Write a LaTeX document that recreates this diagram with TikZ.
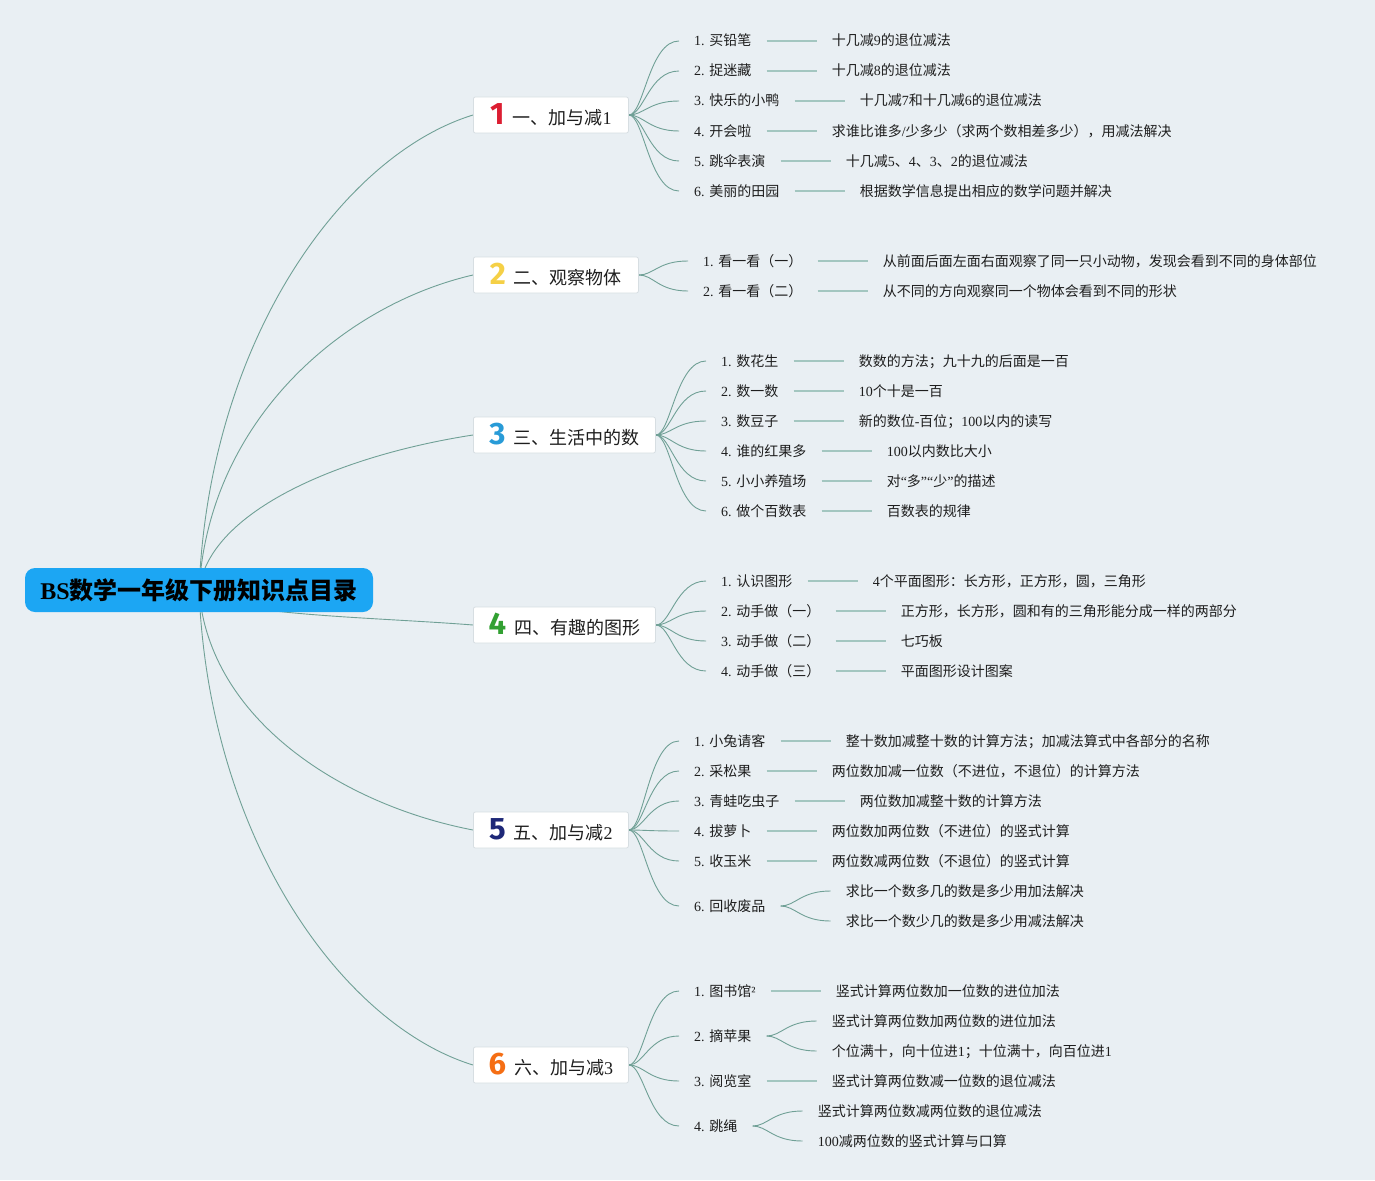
\documentclass[tikz,border=0pt]{standalone}
\usepackage{fontspec}
\setmainfont{Liberation Serif}
\newfontfamily\cjk{Noto Sans CJK SC}
\newfontfamily\numf{Fira Sans}
\usetikzlibrary{positioning,calc}
\XeTeXinterchartokenstate=1
\newXeTeXintercharclass\cjkcls
\newcount\cjkcnt
\def\setcjkrange#1#2{\cjkcnt=#1\relax\loop\ifnum\cjkcnt<#2\relax\XeTeXcharclass\cjkcnt=\cjkcls\advance\cjkcnt by 1\repeat}
\setcjkrange{"3000}{"3040}
\setcjkrange{"4E00}{"A000}
\setcjkrange{"FF00}{"FFF0}
\XeTeXinterchartoks 0 \cjkcls = {\cjk}
\XeTeXinterchartoks 4095 \cjkcls = {\cjk}
\XeTeXinterchartoks \cjkcls 0 = {\rmfamily}
\definecolor{bgc}{RGB}{233,239,243}
\definecolor{rootc}{RGB}{28,166,243}
\definecolor{curvec}{RGB}{112,160,150}
\definecolor{linec}{RGB}{163,198,192}
\definecolor{txt}{RGB}{30,30,30}
\definecolor{secb}{RGB}{215,222,226}
\definecolor{nA}{RGB}{220,30,50}
\definecolor{nB}{RGB}{245,208,70}
\definecolor{nC}{RGB}{40,155,215}
\definecolor{nD}{RGB}{50,160,50}
\definecolor{nE}{RGB}{30,40,120}
\definecolor{nF}{RGB}{245,110,20}
\newcommand\secnum[2]{{\numf\bfseries\fontsize{31}{31}\selectfont\color{#1}#2}\hspace{8pt}}
\pgfdeclarelayer{back}
\pgfdeclarelayer{conn}
\pgfsetlayers{back,conn,main}
\tikzset{
  mroot/.style={fill=rootc, rounded corners=10pt, minimum width=348pt, minimum height=44pt, inner sep=0pt, font=\fontsize{24}{28}\selectfont\bfseries, text=black},
  msec/.style={fill=white, draw=secb, line width=0.8pt, rounded corners=2pt, minimum height=36pt, inner xsep=0pt, inner ysep=0pt, font=\fontsize{18}{22}\selectfont, text=txt, anchor=west},
  mlab/.style={inner xsep=15pt, inner ysep=1pt, text height=11pt, text depth=1pt, font=\fontsize{14}{16}\selectfont, text=txt, anchor=west},
  mconn/.style={draw=curvec, line width=0.9pt},
  mline/.style={draw=linec, line width=1.8pt}
}
\begin{document}
\begin{tikzpicture}[x=1pt,y=-1pt]
\begin{pgfonlayer}{back}
\fill[bgc] (0,0) rectangle (1375,1180);
\end{pgfonlayer}
\useasboundingbox (0,0) rectangle (1375,1180);
% root
\node[mroot] (root) at (199,590) {BS数学一年级下册知识点目录};
% sections
\node[msec, minimum width=155pt] (s1) at (473,115) {\secnum{nA}{1}一、加与减1};
\node[msec, minimum width=165pt] (s2) at (473,275) {\secnum{nB}{2}二、观察物体};
\node[msec, minimum width=182pt] (s3) at (473,435) {\secnum{nC}{3}三、生活中的数};
\node[msec, minimum width=182pt] (s4) at (473,625) {\secnum{nD}{4}四、有趣的图形};
\node[msec, minimum width=155pt] (s5) at (473,830) {\secnum{nE}{5}五、加与减2};
\node[msec, minimum width=155pt] (s6) at (473,1065) {\secnum{nF}{6}六、加与减3};
% section 1
\node[mlab] (a1) at (679,41) {1. 买铅笔};
\node[mlab] (a2) at (679,71) {2. 捉迷藏};
\node[mlab] (a3) at (679,101) {3. 快乐的小鸭};
\node[mlab] (a4) at (679,131) {4. 开会啦};
\node[mlab] (a5) at (679,161) {5. 跳伞表演};
\node[mlab] (a6) at (679,191) {6. 美丽的田园};
\node[mlab, right=50pt of a1] (a1x) {十几减9的退位减法};
\node[mlab, right=50pt of a2] (a2x) {十几减8的退位减法};
\node[mlab, right=50pt of a3] (a3x) {十几减7和十几减6的退位减法};
\node[mlab, right=50pt of a4] (a4x) {求谁比谁多/少多少（求两个数相差多少），用减法解决};
\node[mlab, right=50pt of a5] (a5x) {十几减5、4、3、2的退位减法};
\node[mlab, right=50pt of a6] (a6x) {根据数学信息提出相应的数学问题并解决};
% section 2
\node[mlab] (b1) at (688,261) {1. 看一看（一）};
\node[mlab] (b2) at (688,291) {2. 看一看（二）};
\node[mlab, right=50pt of b1] (b1x) {从前面后面左面右面观察了同一只小动物，发现会看到不同的身体部位};
\node[mlab, right=50pt of b2] (b2x) {从不同的方向观察同一个物体会看到不同的形状};
% section 3
\node[mlab] (c1) at (706,361) {1. 数花生};
\node[mlab] (c2) at (706,391) {2. 数一数};
\node[mlab] (c3) at (706,421) {3. 数豆子};
\node[mlab] (c4) at (706,451) {4. 谁的红果多};
\node[mlab] (c5) at (706,481) {5. 小小养殖场};
\node[mlab] (c6) at (706,511) {6. 做个百数表};
\node[mlab, right=50pt of c1] (c1x) {数数的方法；九十九的后面是一百};
\node[mlab, right=50pt of c2] (c2x) {10个十是一百};
\node[mlab, right=50pt of c3] (c3x) {新的数位-百位；100以内的读写};
\node[mlab, right=50pt of c4] (c4x) {100以内数比大小};
\node[mlab, right=50pt of c5] (c5x) {对“多”“少”的描述};
\node[mlab, right=50pt of c6] (c6x) {百数表的规律};
% section 4
\node[mlab] (d1) at (706,581) {1. 认识图形};
\node[mlab] (d2) at (706,611) {2. 动手做（一）};
\node[mlab] (d3) at (706,641) {3. 动手做（二）};
\node[mlab] (d4) at (706,671) {4. 动手做（三）};
\node[mlab, right=50pt of d1] (d1x) {4个平面图形：长方形，正方形，圆，三角形};
\node[mlab, right=50pt of d2] (d2x) {正方形，长方形，圆和有的三角形能分成一样的两部分};
\node[mlab, right=50pt of d3] (d3x) {七巧板};
\node[mlab, right=50pt of d4] (d4x) {平面图形设计图案};
% section 5
\node[mlab] (e1) at (679,741) {1. 小兔请客};
\node[mlab] (e2) at (679,771) {2. 采松果};
\node[mlab] (e3) at (679,801) {3. 青蛙吃虫子};
\node[mlab] (e4) at (679,831) {4. 拔萝卜};
\node[mlab] (e5) at (679,861) {5. 收玉米};
\node[mlab] (e6) at (679,906) {6. 回收废品};
\node[mlab, right=50pt of e1] (e1x) {整十数加减整十数的计算方法；加减法算式中各部分的名称};
\node[mlab, right=50pt of e2] (e2x) {两位数加减一位数（不进位，不退位）的计算方法};
\node[mlab, right=50pt of e3] (e3x) {两位数加减整十数的计算方法};
\node[mlab, right=50pt of e4] (e4x) {两位数加两位数（不进位）的竖式计算};
\node[mlab, right=50pt of e5] (e5x) {两位数减两位数（不退位）的竖式计算};
\node[mlab, right=50pt of e6, yshift=15pt] (e6u) {求比一个数多几的数是多少用加法解决};
\node[mlab, right=50pt of e6, yshift=-15pt] (e6l) {求比一个数少几的数是多少用减法解决};
% section 6
\node[mlab] (f1) at (679,991) {1. 图书馆²};
\node[mlab] (f2) at (679,1036) {2. 摘苹果};
\node[mlab] (f3) at (679,1081) {3. 阅览室};
\node[mlab] (f4) at (679,1126) {4. 跳绳};
\node[mlab, right=50pt of f1] (f1x) {竖式计算两位数加一位数的进位加法};
\node[mlab, right=50pt of f2, yshift=15pt] (f2u) {竖式计算两位数加两位数的进位加法};
\node[mlab, right=50pt of f2, yshift=-15pt] (f2l) {个位满十，向十位进1；十位满十，向百位进1};
\node[mlab, right=50pt of f3] (f3x) {竖式计算两位数减一位数的退位减法};
\node[mlab, right=50pt of f4, yshift=15pt] (f4u) {竖式计算两位数减两位数的退位减法};
\node[mlab, right=50pt of f4, yshift=-15pt] (f4l) {100减两位数的竖式计算与口算};
% connectors
\begin{pgfonlayer}{conn}
\draw[mconn] (root.center) .. controls +(10,-250) and +(-130,40) .. (s1.west);
\draw[mconn] (root.center) .. controls +(10,-170) and +(-130,30) .. (s2.west);
\draw[mconn] (root.center) .. controls +(10,-80) and +(-130,20) .. (s3.west);
\draw[mconn] (root.center) .. controls +(15,25) and +(-100,-8) .. (s4.west);
\draw[mconn] (root.center) .. controls +(10,130) and +(-130,-25) .. (s5.west);
\draw[mconn] (root.center) .. controls +(10,250) and +(-130,-40) .. (s6.west);
\foreach \i in {1,...,6} {
  \draw[mconn] (s1.east) .. controls +(15,0) and +(-30,0) .. (a\i.west);
  \draw[mline] (a\i.east) -- (a\i x.west);
  \draw[mconn] (s3.east) .. controls +(15,0) and +(-30,0) .. (c\i.west);
  \draw[mline] (c\i.east) -- (c\i x.west);
  \draw[mconn] (s5.east) .. controls +(15,0) and +(-30,0) .. (e\i.west);
}
\foreach \i in {1,2} {
  \draw[mconn] (s2.east) .. controls +(15,0) and +(-30,0) .. (b\i.west);
  \draw[mline] (b\i.east) -- (b\i x.west);
}
\foreach \i in {1,...,4} {
  \draw[mconn] (s4.east) .. controls +(15,0) and +(-30,0) .. (d\i.west);
  \draw[mline] (d\i.east) -- (d\i x.west);
  \draw[mconn] (s6.east) .. controls +(15,0) and +(-30,0) .. (f\i.west);
}
\foreach \i in {1,...,5} {
  \draw[mline] (e\i.east) -- (e\i x.west);
}
\draw[mline] (f1.east) -- (f1x.west);
\draw[mline] (f3.east) -- (f3x.west);
\foreach \p/\u/\l in {e6/e6u/e6l, f2/f2u/f2l, f4/f4u/f4l} {
  \draw[mconn] (\p.east) .. controls +(15,0) and +(-30,0) .. (\u.west);
  \draw[mconn] (\p.east) .. controls +(15,0) and +(-30,0) .. (\l.west);
}
\end{pgfonlayer}
\end{tikzpicture}
\end{document}
